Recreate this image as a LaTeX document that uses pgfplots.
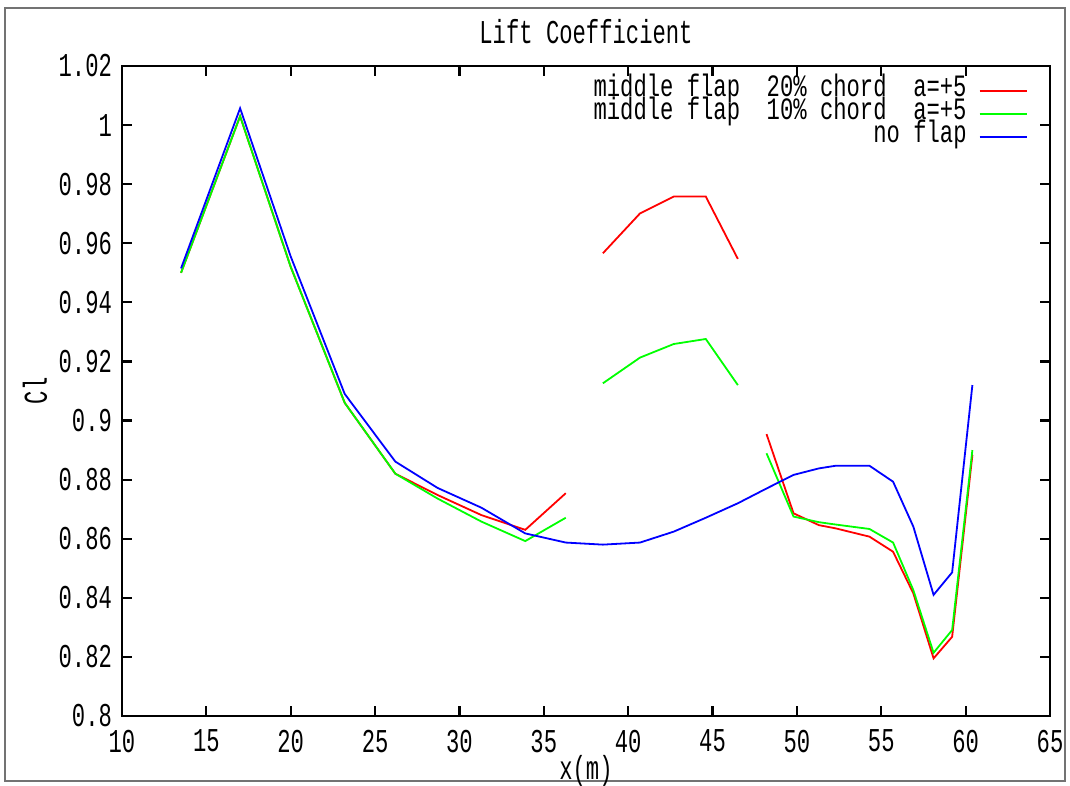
\documentclass[border=0pt]{standalone}
\usepackage{graphicx}
\usepackage{fontspec}
\setmainfont{Liberation Mono}
\usepackage{pgfplots}
\pgfplotsset{compat=1.18}
\newcommand{\st}[1]{\scalebox{1}[1.5]{#1}}
\newcommand{\stl}[1]{\scalebox{1}[1.4]{#1}}
\begin{document}
\begin{tikzpicture}
\useasboundingbox (0pt,0pt) rectangle (535pt,393pt);
\draw[black!55, line width=1pt] (2.5pt,2.5pt) rectangle (532.5pt,389pt);
\begin{axis}[
  at={(61pt,35pt)}, anchor=south west,
  scale only axis, width=464pt, height=325pt,
  xmin=10, xmax=65, ymin=0.8, ymax=1.02,
  xtick={10,15,...,65},
  ytick={0.8,0.82,0.84,0.86,0.88,0.9,0.92,0.94,0.96,0.98,1,1.02},
  font=\fontsize{11.1pt}{13pt}\selectfont,
  /pgf/number format/assume math mode=true,
  xticklabel={\st{\pgfmathprintnumber{\tick}}},
  yticklabel={\st{\pgfmathprintnumber{\tick}}},
  tick align=inside,
  major tick length=5pt,
  axis line style={line width=1.4pt},
  every tick/.style={black, line width=1.1pt},
  xticklabel style={anchor=north, yshift=-3.5pt},
  yticklabel style={anchor=east, xshift=-1.5pt},
  title={\st{Lift Coefficient}},
  title style={at={(axis description cs:0.5,1.0338)}, anchor=center, inner sep=0pt},
  xlabel={\st{x(m)}},
  xlabel style={at={(axis description cs:0.5,-0.0846)}, anchor=center, inner sep=0pt},
  ylabel={\st{Cl}},
  ylabel style={at={(axis description cs:-0.0938,0.5)}, anchor=center, rotate=0, inner sep=0pt},
  unbounded coords=jump,
  legend cell align=right,
  legend plot pos=right,
  legend image code/.code={\draw[#1, line width=1pt] (0pt,0pt) -- (23.5pt,0pt);},
  legend style={at={(axis description cs:1,1)}, anchor=north east, xshift=-11pt, yshift=-6.8pt,
    draw=none, fill=none, inner sep=0pt, row sep=0pt, column sep=6pt,
    nodes={inner sep=0pt, text height=8.3pt, text depth=3.2pt}},
]
\addplot[color=red, line width=0.9pt] coordinates {
(13.5,0.950) (17.0,1.003) (20.0,0.952) (23.2,0.906) (26.2,0.882) (28.7,0.8748)
(31.3,0.868) (33.9,0.863) (36.3,0.8754) (37.4,nan)
(38.5,0.9566) (40.7,0.9701) (42.7,0.9758) (44.6,0.9758) (46.5,0.9547) (47.3,nan)
(48.2,0.8954) (49.8,0.8686) (51.3,0.8646) (52.3,0.8635) (54.3,0.8607) (55.7,0.8556)
(56.9,0.8415) (58.1,0.8195) (59.2,0.8268) (60.4,0.8883)
};
\addlegendentry{\stl{middle~flap~~20\%~chord~~a=+5}}
\addplot[color=green, line width=0.9pt] coordinates {
(13.5,0.950) (17.0,1.003) (20.0,0.952) (23.2,0.906) (26.2,0.882) (28.7,0.8736)
(31.3,0.8658) (33.9,0.8592) (36.3,0.8671) (37.4,nan)
(38.5,0.9126) (40.7,0.9213) (42.7,0.9259) (44.6,0.9276) (46.5,0.912) (47.3,nan)
(48.2,0.8889) (49.8,0.8675) (51.3,0.8656) (52.3,0.8648) (54.3,0.8633) (55.7,0.8587)
(56.9,0.8426) (58.1,0.8214) (59.2,0.8291) (60.4,0.890)
};
\addlegendentry{\stl{middle~flap~~10\%~chord~~a=+5}}
\addplot[color=blue, line width=0.9pt] coordinates {
(13.5,0.9515) (17.0,1.0057) (20.0,0.9555) (23.2,0.909) (26.2,0.8861) (28.7,0.8772)
(31.3,0.8705) (33.9,0.8618) (36.3,0.8587) (38.5,0.858) (40.7,0.8587) (42.7,0.8624)
(44.6,0.8671) (46.5,0.872) (48.2,0.877) (49.8,0.8816) (51.3,0.8838) (52.3,0.8847)
(54.3,0.8847) (55.7,0.8793) (56.9,0.8641) (58.1,0.841) (59.2,0.8486) (60.4,0.912)
};
\addlegendentry{\stl{no~flap}}
\end{axis}
\end{tikzpicture}
\end{document}
